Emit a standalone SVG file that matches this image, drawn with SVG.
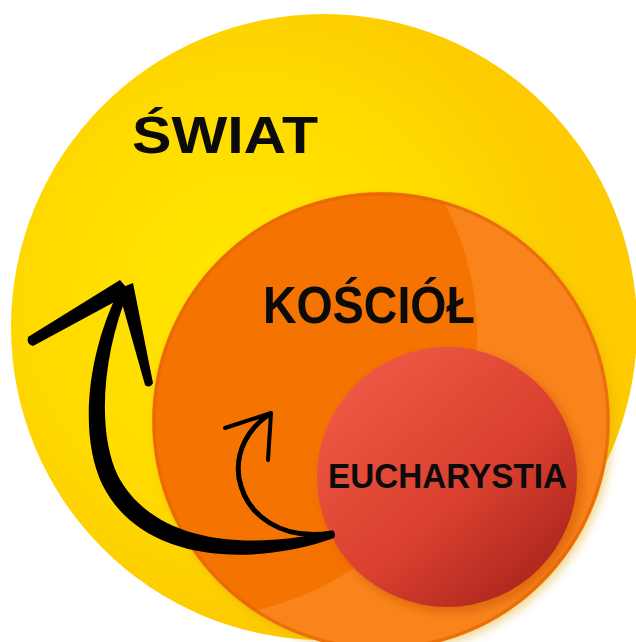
<svg xmlns="http://www.w3.org/2000/svg" width="636" height="642" viewBox="0 0 636 642">
  <defs>
    <radialGradient id="gYellow" cx="250" cy="300" r="330" gradientUnits="userSpaceOnUse">
      <stop offset="0" stop-color="#FFE800"/>
      <stop offset="0.65" stop-color="#FFDA00"/>
      <stop offset="1" stop-color="#FDCB00"/>
    </radialGradient>
    <linearGradient id="gRed" x1="350" y1="360" x2="560" y2="600" gradientUnits="userSpaceOnUse">
      <stop offset="0" stop-color="#F05A46"/>
      <stop offset="0.55" stop-color="#D9402F"/>
      <stop offset="1" stop-color="#A3201A"/>
    </linearGradient>
    <clipPath id="clipOrange">
      <circle cx="381" cy="421" r="228"/>
    </clipPath>
    <filter id="shadow" x="-20%" y="-20%" width="140%" height="140%">
      <feGaussianBlur stdDeviation="5"/>
    </filter>
    <style>
      .label { font-family: "Liberation Sans", Arial, sans-serif; font-weight: bold; fill: #0b0b0b; }
      .ink { fill: #000000; }
      .inkline { fill: none; stroke: #000000; stroke-linecap: round; stroke-linejoin: round; }
    </style>
  </defs>

  <rect x="0" y="0" width="636" height="642" fill="#FFFFFF"/>

  <g id="node-swiat">
    <circle cx="324" cy="327" r="313" fill="url(#gYellow)"/>
    <text class="label" x="132" y="153" font-size="52" textLength="186" lengthAdjust="spacingAndGlyphs">ŚWIAT</text>
  </g>

  <g id="node-kosciol">
    <circle cx="384" cy="425" r="229" fill="#D9A000" opacity="0.4" filter="url(#shadow)"/>
    <circle cx="381" cy="421" r="229" fill="#FA841C"/>
    <g clip-path="url(#clipOrange)">
      <circle cx="195" cy="335" r="282" fill="#F57300"/>
    </g>
    <circle cx="381" cy="421" r="227" fill="none" stroke="#E46600" stroke-width="3" opacity="0.7"/>
    <text class="label" x="263" y="323" font-size="52" textLength="212" lengthAdjust="spacingAndGlyphs">KOŚCIÓŁ</text>
  </g>

  <g id="node-eucharystia">
    <g clip-path="url(#clipOrange)">
      <circle cx="452" cy="482" r="131" fill="#C85400" opacity="0.5" filter="url(#shadow)"/>
    </g>
    <circle cx="447" cy="477" r="130" fill="url(#gRed)"/>
    <text class="label" x="328" y="488" font-size="35" textLength="239" lengthAdjust="spacingAndGlyphs">EUCHARYSTIA</text>
  </g>

  <g id="connectors">
    <g id="arrow-big">
      <path class="ink" d="M334,538 C250,568 140,562 102,484 C78,432 88,350 121,286 L129,290 C103,352 96,430 118,476 C155,545 250,550 331,531 Q337,533 334,538 Z"/>
      <path class="ink" d="M120,280 L131,293 L33,346 Q26,344 28,337 Z"/>
      <path class="ink" d="M118,289 L133,283 L153,383 Q150,389 145,385 Z"/>
    </g>
    <g id="arrow-small">
      <path class="inkline" stroke-width="5" d="M332,533 C282,541 246,516 239,478 C235,452 248,428 270,414"/>
      <path class="inkline" stroke-width="4" d="M225,428 L271,413 L268,460"/>
    </g>
  </g>
</svg>
